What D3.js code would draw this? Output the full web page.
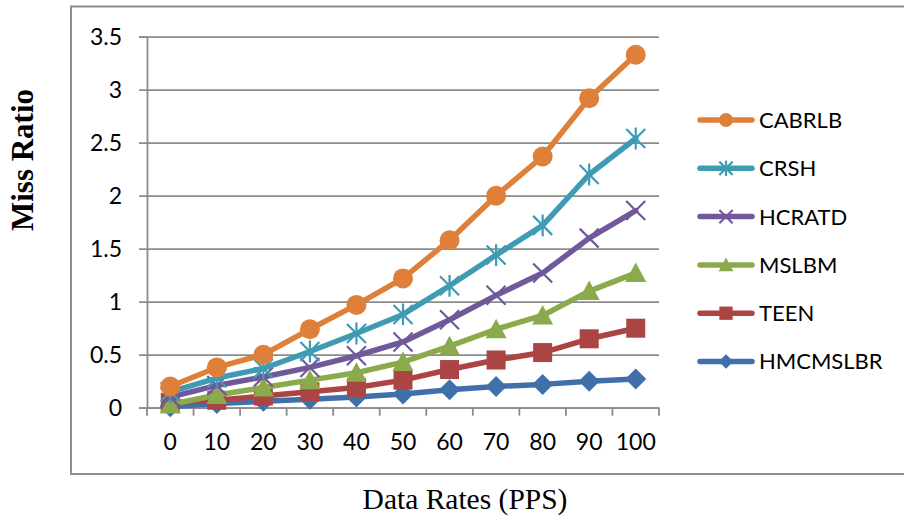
<!DOCTYPE html>
<html>
<head>
<meta charset="utf-8">
<script src="https://cdn.jsdelivr.net/npm/d3@7"></script>
<style>
  html, body { margin: 0; padding: 0; background: #fff; }
  svg { display: block; }
</style>
</head>
<body>
<svg id="chart" width="904" height="522"></svg>
<script>
// Data rates (packets per second) on the x axis
const rates = [0, 10, 20, 30, 40, 50, 60, 70, 80, 90, 100];
const yTicks = [0, 0.5, 1, 1.5, 2, 2.5, 3, 3.5];

// Miss ratio per protocol
const CABRLB   = [0.20, 0.38, 0.50, 0.74, 0.97, 1.22, 1.58, 2.00, 2.37, 2.92, 3.33];
const CRSH     = [0.15, 0.28, 0.37, 0.53, 0.70, 0.88, 1.15, 1.44, 1.72, 2.20, 2.54];
const HCRATD   = [0.10, 0.21, 0.29, 0.38, 0.49, 0.62, 0.83, 1.06, 1.27, 1.60, 1.86];
const MSLBM    = [0.03, 0.12, 0.19, 0.26, 0.33, 0.43, 0.58, 0.74, 0.87, 1.10, 1.27];
const TEEN     = [0.05, 0.07, 0.11, 0.15, 0.19, 0.26, 0.36, 0.45, 0.52, 0.65, 0.75];
const HMCMSLBR = [0.01, 0.04, 0.06, 0.08, 0.10, 0.13, 0.17, 0.20, 0.22, 0.25, 0.27];

const seriesNames = ["CABRLB", "CRSH", "HCRATD", "MSLBM", "TEEN", "HMCMSLBR"];
const seriesValues = [CABRLB, CRSH, HCRATD, MSLBM, TEEN, HMCMSLBR];
const seriesColors = ["#DE8039", "#3F9BB4", "#71589B", "#8BAA4B", "#AB4543", "#4070AA"];
const seriesMarkers = ["circle", "star", "x", "triangle", "square", "diamond"];

const svg = d3.select("#chart");
const labelFont = "Lato, 'Open Sans', sans-serif";
const gridColor = "#8c8c8c";

// Outer chart border (open on the right)
svg.append("rect")
  .attr("x", 71).attr("y", 6.5)
  .attr("width", 900).attr("height", 467.5)
  .attr("fill", "none").attr("stroke", "#8e8e8e").attr("stroke-width", 2);

const plot = { left: 147, right: 659, top: 36.7, bottom: 407.7 };

const x = d3.scaleBand().domain(rates).range([plot.left, plot.right]).padding(0);
const y = d3.scaleLinear().domain([0, 3.5]).range([plot.bottom, plot.top]);

// Horizontal gridlines + y axis
const yAxis = d3.axisLeft(y).tickValues(yTicks)
  .tickSize(8).tickPadding(17)
  .tickFormat(d => d3.format("")(d));
const gy = svg.append("g").attr("transform", `translate(${plot.left},0)`).call(yAxis);
gy.select(".domain").attr("stroke", gridColor).attr("stroke-width", 1.8);
gy.selectAll(".tick line").attr("stroke", gridColor).attr("stroke-width", 1.8)
  .attr("x1", plot.right - plot.left);
gy.selectAll(".tick text")
  .attr("font-family", labelFont).attr("font-size", 23).attr("fill", "#000");

// x axis with ticks between categories
const xAxis = d3.axisBottom(x).tickSize(0).tickPadding(26);
const gx = svg.append("g").attr("transform", `translate(0,${plot.bottom})`).call(xAxis);
gx.select(".domain").attr("stroke", gridColor).attr("stroke-width", 1.8);
gx.selectAll(".tick text")
  .attr("font-family", labelFont).attr("font-size", 23).attr("fill", "#000");
const boundaries = rates.map(r => x(r)).concat([x(rates[rates.length - 1]) + x.bandwidth()]);
gx.selectAll("line.cat").data(boundaries).enter().append("line")
  .attr("class", "cat")
  .attr("x1", d => d).attr("x2", d => d)
  .attr("y1", 0).attr("y2", 8)
  .attr("stroke", gridColor).attr("stroke-width", 1.8);

// Marker drawing
function drawMarker(g, type, cx, cy, color, scale) {
  const s = scale;
  if (type === "circle") {
    g.append("circle").attr("cx", cx).attr("cy", cy).attr("r", 10 * s).attr("fill", color);
  } else if (type === "square") {
    g.append("rect").attr("x", cx - 9.5 * s).attr("y", cy - 9.5 * s)
      .attr("width", 19 * s).attr("height", 19 * s).attr("fill", color);
  } else if (type === "triangle") {
    const h = 10 * s;
    g.append("path").attr("d", `M${cx},${cy - h * 1.05} L${cx + h * 1.05},${cy + h * 0.9} L${cx - h * 1.05},${cy + h * 0.9} Z`)
      .attr("fill", color);
  } else if (type === "diamond") {
    const h = 10.5 * s;
    g.append("path").attr("d", `M${cx},${cy - h} L${cx + h},${cy} L${cx},${cy + h} L${cx - h},${cy} Z`)
      .attr("fill", color);
  } else if (type === "x" || type === "star") {
    const h = 9.5 * s;
    let d = `M${cx - h},${cy - h} L${cx + h},${cy + h} M${cx - h},${cy + h} L${cx + h},${cy - h}`;
    if (type === "star") d += ` M${cx},${cy - h * 1.15} L${cx},${cy + h * 1.15}`;
    g.append("path").attr("d", d).attr("stroke", color).attr("stroke-width", 2.2).attr("fill", "none");
  }
}

// Series, drawn last-to-first so the top legend entry sits on top
const line = d3.line().x((d, i) => x(rates[i]) + x.bandwidth() / 2).y(d => y(d));
for (let k = seriesNames.length - 1; k >= 0; k--) {
  const g = svg.append("g").attr("class", "series");
  g.append("path").datum(seriesValues[k])
    .attr("d", line).attr("fill", "none")
    .attr("stroke", seriesColors[k]).attr("stroke-width", 5.5)
    .attr("stroke-linejoin", "round").attr("stroke-linecap", "round");
  seriesValues[k].forEach((v, i) => {
    drawMarker(g, seriesMarkers[k], x(rates[i]) + x.bandwidth() / 2, y(v), seriesColors[k], 1);
  });
}

// Legend
const legend = svg.append("g").attr("class", "legend");
seriesNames.forEach((name, k) => {
  const ly = 120 + k * 48.3;
  const g = legend.append("g");
  g.append("line").attr("x1", 700).attr("x2", 752).attr("y1", ly).attr("y2", ly)
    .attr("stroke", seriesColors[k]).attr("stroke-width", 5.5).attr("stroke-linecap", "round");
  drawMarker(g, seriesMarkers[k], 726, ly, seriesColors[k], 0.7);
  g.append("text").attr("x", 759).attr("y", ly).attr("dy", "0.36em")
    .attr("font-family", labelFont).attr("font-size", 22).attr("fill", "#000")
    .text(name);
});

// Axis titles
svg.append("text")
  .attr("transform", "translate(33,160) rotate(-90)")
  .attr("text-anchor", "middle")
  .attr("font-family", "'Liberation Serif', 'Times New Roman', serif")
  .attr("font-weight", "bold").attr("font-size", 31)
  .text("Miss Ratio");

svg.append("text")
  .attr("x", 465).attr("y", 509)
  .attr("text-anchor", "middle")
  .attr("font-family", "'Liberation Serif', 'Times New Roman', serif")
  .attr("font-size", 29.5)
  .text("Data Rates (PPS)");
</script>
</body>
</html>
